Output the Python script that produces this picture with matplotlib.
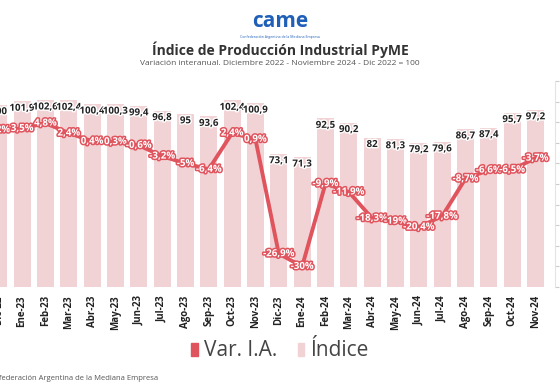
import numpy as np
import matplotlib.pyplot as plt
import matplotlib.patheffects as pe
from matplotlib.patches import Patch

plt.rcParams['font.family'] = ['Open Sans', 'DejaVu Sans']

# data
months = ['Dic-22', 'Ene-23', 'Feb-23', 'Mar-23', 'Abr-23', 'May-23', 'Jun-23', 'Jul-23',
          'Ago-23', 'Sep-23', 'Oct-23', 'Nov-23', 'Dic-23', 'Ene-24', 'Feb-24', 'Mar-24',
          'Abr-24', 'May-24', 'Jun-24', 'Jul-24', 'Ago-24', 'Sep-24', 'Oct-24', 'Nov-24']
indice = [100, 101.9, 102.6, 102.4, 100.4, 100.3, 99.4, 96.8, 95, 93.6, 102.4, 100.9,
          73.1, 71.3, 92.5, 90.2, 82, 81.3, 79.2, 79.6, 86.7, 87.4, 95.7, 97.2]
var_ia = [3.2, 3.5, 4.8, 2.4, 0.4, 0.3, -0.6, -3.2, -5, -6.4, 2.4, 0.9,
          -26.9, -30, -9.9, -11.9, -18.3, -19, -20.4, -17.8, -8.7, -6.6, -6.5, -3.7]

bar_color = '#f2d3d5'
line_color = '#e0545e'

def fmt(v):
    s = ('%.1f' % v).rstrip('0').rstrip('.')
    return s.replace('.', ',')

fig = plt.figure(figsize=(5.6, 3.9), dpi=100)
ax = fig.add_axes([-0.023, 0.264, 1.0, 0.528])
x = np.arange(len(months))

# bars = indice
ax.bar(x, indice, width=0.72, color=bar_color, zorder=1)
ax.set_ylim(0, 113)
ax.set_xlim(-0.5, len(months) - 0.5)
for s in ax.spines.values():
    s.set_visible(False)
ax.set_yticks([])
ax.set_xticks(x)
ax.set_xticklabels(months, rotation=90, fontsize=7, fontweight='bold', color='#222222')
ax.tick_params(axis='x', length=0, pad=6)

for xi, v in zip(x, indice):
    ax.annotate(fmt(v), (xi, v), xytext=(0, -1), textcoords='offset points',
                ha='center', va='top', fontsize=7, fontweight='bold', color='#222222',
                path_effects=[pe.withStroke(linewidth=2, foreground='white')], zorder=5)

# line = variacion interanual on second axis
ax2 = ax.twinx()
ax2.plot(x, var_ia, color=line_color, lw=2.8, zorder=3)
ax2.set_ylim(-35, 15)
ax2.set_yticks(np.arange(-35, 16, 5))
ax2.tick_params(axis='y', colors='#cccccc', labelsize=7, length=3)
for s in ax2.spines.values():
    s.set_visible(False)
ax2.spines['right'].set_visible(True)
ax2.spines['right'].set_color('#e4e4e4')
ax2.spines['right'].set_position(('outward', 6))

for xi, v in zip(x, var_ia):
    ax2.text(xi, v, fmt(v) + '%', ha='center', va='center', fontsize=7, fontweight='bold',
             color='white', zorder=6,
             path_effects=[pe.withStroke(linewidth=2.2, foreground=line_color)])

# header
fig.text(0.5, 0.944, 'came', ha='center', va='center', fontsize=15, fontweight='bold',
         color='#1f5fb8')
fig.text(0.5, 0.905, 'Confederación Argentina de la Mediana Empresa', ha='center', va='center',
         fontsize=2.5, color='#1f5fb8')
fig.text(0.5, 0.872, 'Índice de Producción Industrial PyME', ha='center', va='center',
         fontsize=10, fontweight='bold', color='#333333')
fig.text(0.5, 0.836, 'Variación interanual. Diciembre 2022 - Noviembre 2024 - Dic 2022 = 100',
         ha='center', va='center', fontsize=6, color='#555555')

handles = [Patch(color=line_color), Patch(color=bar_color)]
fig.legend(handles, ['Var. I.A.', 'Índice'], loc='center', bbox_to_anchor=(0.5, 0.1),
           ncol=2, frameon=False, fontsize=15, handlelength=0.3, handleheight=0.6,
           handletextpad=0.3, columnspacing=1.0, labelcolor='#444444')

fig.text(-0.027, 0.03, 'Confederación Argentina de la Mediana Empresa', ha='left', va='center',
         fontsize=5.5, color='#555555')

plt.savefig('out.png', dpi=100)
